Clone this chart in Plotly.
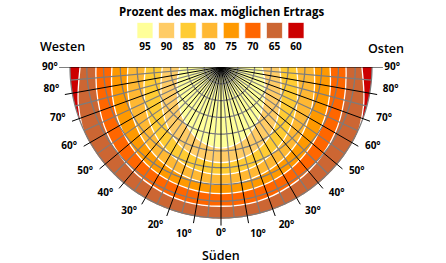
import plotly.graph_objects as go
import numpy as np

# ---------------- data ----------------
levels = [95, 90, 85, 80, 75, 70, 65, 60]
colors = ["#FFFF99", "#FFCC66", "#FFCC33", "#FFB833", "#FF9900", "#FF6600", "#CC6633", "#CC0000"]

# azimuth from south (deg); values mirrored to west (left) and east (right)
bnd_az = [0, 15, 30, 45, 60, 75, 90]
# tilt angle (deg) where the yield falls below each level
bnd_95 = [48.3, 46.0, 40.6, 34.9, 30.2, 26.8, 24.6]
bnd_90 = [57.0, 55.5, 52.0, 46.5, 41.0, 37.0, 35.0]
bnd_85 = [64.0, 63.0, 60.0, 56.0, 51.5, 47.5, 45.0]
bnd_80 = [70.0, 69.0, 67.0, 64.0, 60.5, 57.5, 55.5]
bnd_75 = [75.5, 75.0, 74.0, 72.0, 69.5, 67.0, 65.0]
bnd_70 = [83.0, 83.0, 82.0, 80.5, 78.5, 76.0, 74.5]
bnd_65 = [95.0, 95.0, 95.0, 94.0, 91.5, 88.0, 84.0]
boundaries = {95: bnd_95, 90: bnd_90, 85: bnd_85, 80: bnd_80, 75: bnd_75, 70: bnd_70, 65: bnd_65}

tilt_rings = [10, 20, 30, 40, 50, 60, 70, 80, 90]
az_major = [-90, -80, -70, -60, -50, -40, -30, -20, -10, 0, 10, 20, 30, 40, 50, 60, 70, 80, 90]
az_minor = [-85, -75, -65, -55, -45, -35, -25, -15, -5, 5, 15, 25, 35, 45, 55, 65, 75, 85]
az_labels = [90, 80, 70, 60, 50, 40, 30, 20, 10]

title = "Prozent des max. möglichen Ertrags"
FONT = "Open Sans"

def th(az):
    """west (negative az) on the left, south at the bottom, east on the right"""
    return 270 + az

fig = go.Figure()

# base semicircle (lowest class)
arc = np.linspace(180, 360, 181)
fig.add_trace(go.Scatterpolar(theta=list(arc) + [0], r=[90] * len(arc) + [0], mode="lines",
                              fill="toself", fillcolor=colors[-1], line=dict(width=0),
                              hoverinfo="skip", showlegend=False))

# class regions, outermost first
for lev in [65, 70, 75, 80, 85, 90, 95]:
    b = boundaries[lev]
    az_pos = bnd_az + [105, 120]
    r_pos = b + [b[-1], b[-1]]
    az_full = [-a for a in az_pos[::-1]] + az_pos[1:]
    r_full = r_pos[::-1] + r_pos[1:]
    thetas = [th(a) for a in az_full] + [0]
    rs = r_full + [0]
    fig.add_trace(go.Scatterpolar(theta=thetas, r=rs, mode="lines", fill="toself",
                                  fillcolor=colors[levels.index(lev)],
                                  line=dict(color="white", width=1.3, shape="spline"),
                                  hoverinfo="skip", showlegend=False))

# white mask outside the 90 deg circle
fig.add_trace(go.Scatterpolar(theta=list(arc) + list(arc[::-1]), r=[90.4] * len(arc) + [100] * len(arc),
                              mode="lines", fill="toself", fillcolor="white", line=dict(width=0),
                              hoverinfo="skip", showlegend=False))

# gray tilt rings
t_ring, r_ring = [], []
for rr in tilt_rings:
    t_ring += list(arc) + [None]
    r_ring += [rr] * len(arc) + [None]
fig.add_trace(go.Scatterpolar(theta=t_ring, r=r_ring, mode="lines",
                              line=dict(color="#7c7c7c", width=1.25), hoverinfo="skip", showlegend=False))

# gray minor rays
t_m, r_m = [], []
for a in az_minor:
    t_m += [th(a), th(a), None]
    r_m += [0, 90, None]
fig.add_trace(go.Scatterpolar(theta=t_m, r=r_m, mode="lines",
                              line=dict(color="#7c7c7c", width=1.15), hoverinfo="skip", showlegend=False))

# black major rays
t_M, r_M = [], []
for a in az_major:
    t_M += [th(a), th(a), None]
    r_M += [0, 96.5 if abs(a) == 90 else 94.5, None]
fig.add_trace(go.Scatterpolar(theta=t_M, r=r_M, mode="lines",
                              line=dict(color="black", width=1), hoverinfo="skip", showlegend=False))

# angle labels
lab_t, lab_r, lab_s = [], [], []
for L in az_labels:
    e = max(0.0, 90 - L - 2.5)
    lab_t += [180 + e, 360 - e]
    lab_r += [102, 102]
    lab_s += [f"{L}°", f"{L}°"]
lab_t.append(270)
lab_r.append(99)
lab_s.append("0°")
fig.add_trace(go.Scatterpolar(theta=lab_t, r=lab_r, mode="text", text=lab_s, cliponaxis=False,
                              textfont=dict(family=FONT, size=10, color="black", weight="bold"),
                              hoverinfo="skip", showlegend=False))

# legend as a small cartesian strip
fig.add_trace(go.Scatter(x=list(range(len(levels))), y=[0.71] * len(levels), mode="markers",
                         marker=dict(symbol="square", size=16, color=colors,
                                     line=dict(color="rgba(255,255,255,0.7)", width=1)),
                         xaxis="x", yaxis="y", hoverinfo="skip", showlegend=False))
fig.add_trace(go.Scatter(x=list(range(len(levels))), y=[0.25] * len(levels), mode="text",
                         text=[str(v) for v in levels],
                         textfont=dict(family=FONT, size=10, color="black", weight="bold"),
                         xaxis="x", yaxis="y", hoverinfo="skip", showlegend=False))

W, H = 446, 263
RMAX = 110
cx, cy = 221, 67
Rpx = 151 * RMAX / 90
fig.update_layout(
    width=W, height=H, margin=dict(l=0, r=0, t=0, b=0),
    paper_bgcolor="white", plot_bgcolor="white",
    polar=dict(
        domain=dict(x=[(cx - Rpx) / W, (cx + Rpx) / W], y=[(H - cy - Rpx) / H, (H - cy) / H]),
        sector=[180, 360], bgcolor="rgba(0,0,0,0)",
        radialaxis=dict(range=[0, RMAX], visible=False, showgrid=False),
        angularaxis=dict(visible=False, showgrid=False, rotation=0, direction="counterclockwise"),
    ),
    xaxis=dict(domain=[134.2 / W, 306.8 / W], range=[-0.5, 7.5], visible=False, fixedrange=True),
    yaxis=dict(domain=[(H - 56) / H, (H - 20) / H], range=[0, 1], visible=False, fixedrange=True),
    annotations=[
        dict(text=title, x=221 / W, y=(H - 11) / H, xref="paper", yref="paper", showarrow=False,
             xanchor="center", yanchor="middle",
             font=dict(family=FONT, size=11.5, color="black", weight="bold")),
        dict(text="Westen", x=63 / W, y=(H - 47) / H, xref="paper", yref="paper", showarrow=False,
             xanchor="center", yanchor="middle",
             font=dict(family=FONT, size=12.5, color="black", weight=600)),
        dict(text="Osten", x=385.5 / W, y=(H - 48) / H, xref="paper", yref="paper", showarrow=False,
             xanchor="center", yanchor="middle",
             font=dict(family=FONT, size=12.5, color="black", weight=600)),
        dict(text="Süden", x=221 / W, y=(H - 255) / H, xref="paper", yref="paper", showarrow=False,
             xanchor="center", yanchor="middle",
             font=dict(family=FONT, size=12.5, color="black", weight=600)),
    ],
)

fig.write_html("out.html")
